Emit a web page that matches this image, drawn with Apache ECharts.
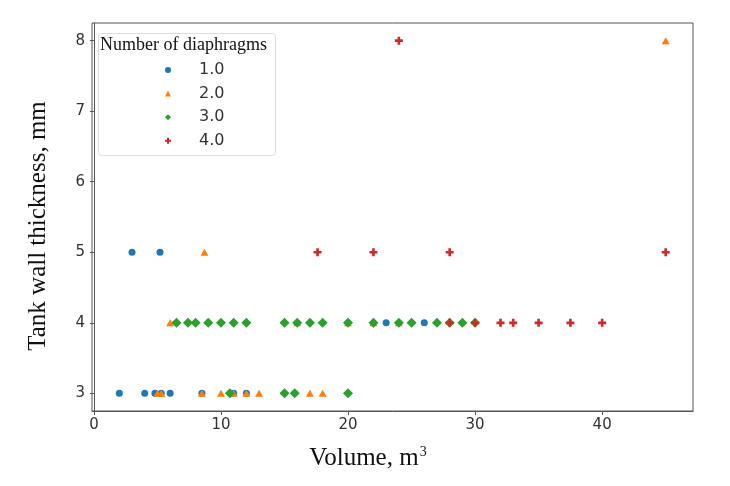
<!DOCTYPE html>
<html><head><meta charset="utf-8">
<script src="https://cdn.jsdelivr.net/npm/echarts@6/dist/echarts.min.js"></script>
<style>html,body{margin:0;padding:0;background:#fff}#c{width:730px;height:486px}</style>
</head><body><div id="c"></div>
<script>
// Data: [volume, thickness] per number of diaphragms
const seriesNames = ['1.0', '2.0', '3.0', '4.0'];
const d1 = [[2,3],[4,3],[4.8,3],[5.3,3],[6,3],[8.5,3],[11,3],[12,3],[23,4],[26,4],[3,5],[5.2,5]];
const d2 = [[5.0,3],[5.3,3],[8.5,3],[10,3],[11,3],[12,3],[13,3],[17,3],[18,3],[6,4],[16,4],[20,4],[22,4],[24,4],[8.7,5],[45,8]];
const d3 = [[10.7,3],[15,3],[15.8,3],[20,3],[6.5,4],[7.4,4],[8,4],[9,4],[10,4],[11,4],[12,4],[15,4],[16,4],[17,4],[18,4],[20,4],[22,4],[24,4],[25,4],[27,4],[28,4],[29,4],[30,4]];
const d4 = [[28,4],[30,4],[32,4],[33,4],[35,4],[37.5,4],[40,4],[17.6,5],[22,5],[28,5],[45,5],[24,8]];
const xTicks = [0,10,20,30,40];
const yTicks = [3,4,5,6,7,8];

const colors = ['#1f77b4','#ff7f0e','#2ca02c','#d62728'];
const plusPath = 'path://M1,0H2V1H3V2H2V3H1V2H0V1H1Z';
const symbols = ['circle','triangle','diamond',plusPath];
const sizes = [7,[8,7],10,8];
const datas = [d1,d2,d3,d4];

const chart = echarts.init(document.getElementById('c'));
chart.setOption({
  animation: false,
  grid: {left: 92, right: 37, top: 23, bottom: 75, show: true, borderColor: '#555', borderWidth: 1},
  xAxis: {
    type: 'value', min: -0.15, max: 47.15,
    splitLine: {show: false},
    axisLine: {show: true, lineStyle: {color: '#555'}},
    axisTick: {show: true, length: 4, lineStyle: {color: '#555'}, customValues: xTicks},
    axisLabel: {customValues: xTicks, fontFamily: 'DejaVu Sans', fontSize: 15, color: '#333', margin: 7}
  },
  yAxis: {
    type: 'value', min: 2.75, max: 8.25,
    splitLine: {show: false},
    axisLine: {show: true, lineStyle: {color: '#555'}},
    axisTick: {show: true, length: 4, lineStyle: {color: '#555'}, customValues: yTicks},
    axisLabel: {customValues: yTicks, fontFamily: 'DejaVu Sans', fontSize: 15, color: '#333', margin: 7}
  },
  legend: {
    orient: 'vertical', left: 165, top: 62, itemGap: 7.6,
    itemWidth: 6, itemHeight: 6, padding: 0,
    textStyle: {fontFamily: 'DejaVu Sans', fontSize: 16, color: '#333', padding: [0,0,0,23]},
    data: seriesNames
  },
  graphic: [
    {type: 'rect', left: 98, top: 33, shape: {width: 177, height: 122, r: 3}, style: {fill: 'rgba(255,255,255,0.8)', stroke: '#ddd', lineWidth: 1}, z: 1},
    {type: 'text', left: 100, top: 36, style: {text: 'Number of diaphragms', font: '18px "Liberation Serif"', fill: '#111'}, z: 2},
    {type: 'text', x: 38, y: 226, rotation: Math.PI / 2,
     style: {text: 'Tank wall thickness, mm', font: '25px "Liberation Serif"', fill: '#111', align: 'center', verticalAlign: 'middle'}},
    {type: 'text', x: 368, y: 458,
     style: {text: '{a|Volume, m}{s|3}', align: 'center', verticalAlign: 'middle',
       rich: {
         a: {fontFamily: 'Liberation Serif', fontSize: 25, fill: '#111'},
         s: {fontFamily: 'Liberation Serif', fontSize: 14, fill: '#111', padding: [0,0,11,1]}
       }}}
  ],
  series: datas.map((d, i) => ({
    name: seriesNames[i], type: 'scatter', data: d,
    symbol: symbols[i], symbolSize: sizes[i],
    itemStyle: {color: colors[i], opacity: 1}
  }))
});
</script></body></html>
